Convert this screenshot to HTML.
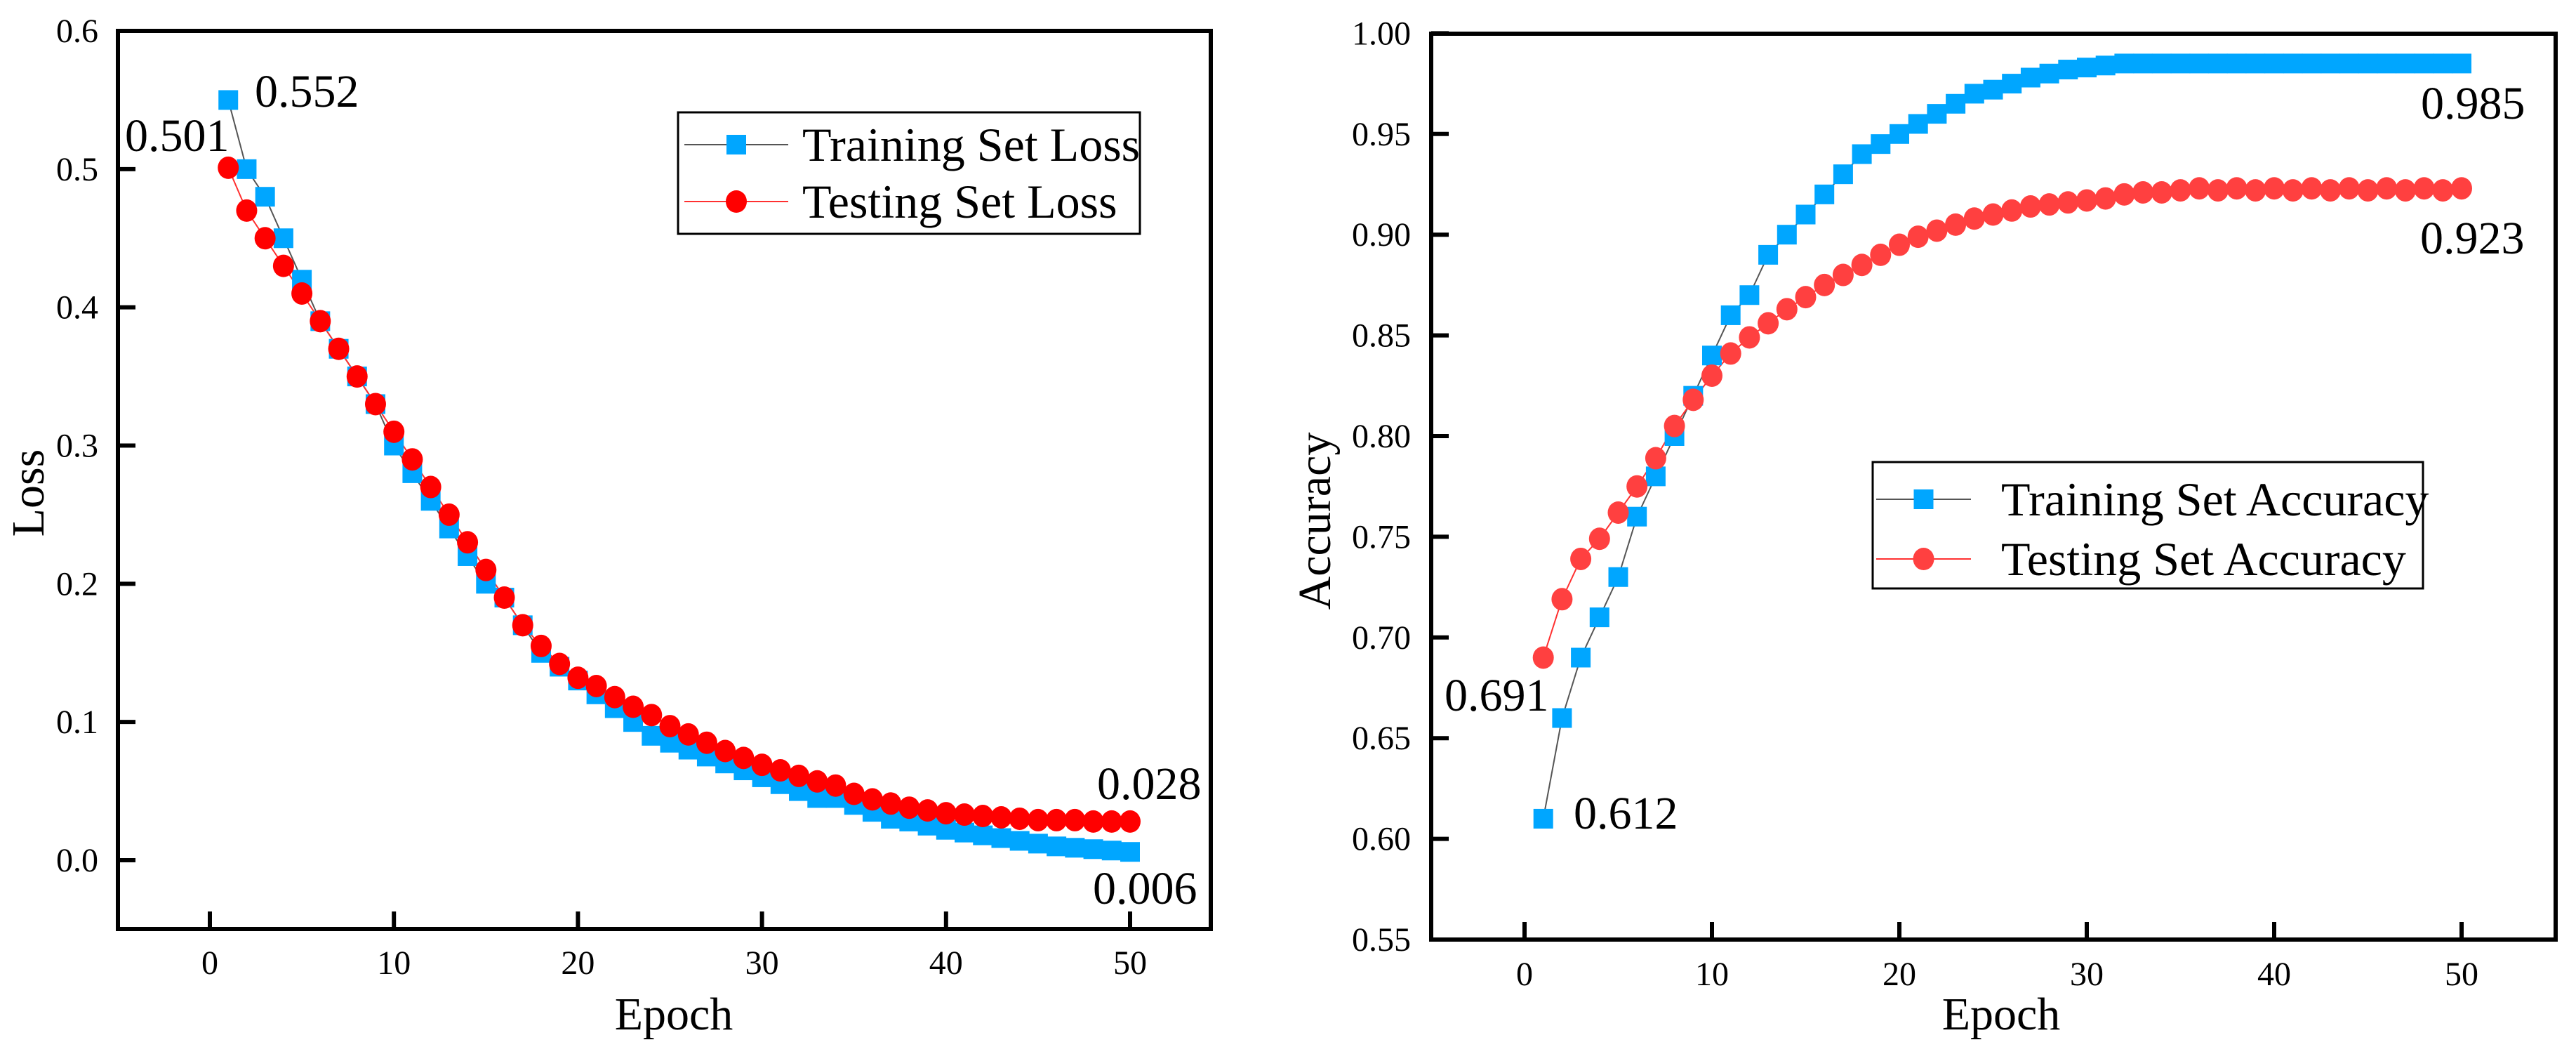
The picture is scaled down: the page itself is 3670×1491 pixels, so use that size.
<!DOCTYPE html>
<html><head><meta charset="utf-8"><style>
html,body{margin:0;padding:0;background:#fff;width:3670px;height:1491px;overflow:hidden}
svg text{font-family:"Liberation Serif",serif;fill:#000}
</style></head><body>
<svg id="fig" width="3670" height="1491" viewBox="0 0 3670 1491" xmlns="http://www.w3.org/2000/svg">
<g id="lossPanel"></g>
<g id="accPanel"></g>
</svg>
<script>
const epochs = Array.from({length:50},(_,i)=>i+1);
const lossTicksY = [0.0,0.1,0.2,0.3,0.4,0.5,0.6];
const lossTickLabels = ["0.0","0.1","0.2","0.3","0.4","0.5","0.6"];
const accTicksY = [0.55,0.60,0.65,0.70,0.75,0.80,0.85,0.90,0.95,1.00];
const accTickLabels = ["0.55","0.60","0.65","0.70","0.75","0.80","0.85","0.90","0.95","1.00"];
const xTicks = [0,10,20,30,40,50];
const trainLoss = [0.55,0.50,0.48,0.45,0.42,0.39,0.37,0.35,0.33,0.30,0.28,0.26,0.24,0.22,0.20,0.19,0.17,0.15,0.14,0.13,0.12,0.11,0.10,0.09,0.085,0.08,0.075,0.07,0.065,0.06,0.055,0.05,0.045,0.045,0.04,0.035,0.03,0.028,0.025,0.022,0.02,0.018,0.016,0.014,0.012,0.01,0.009,0.008,0.007,0.006];
const testLoss = [0.501,0.47,0.45,0.43,0.41,0.39,0.37,0.35,0.33,0.31,0.29,0.27,0.25,0.23,0.21,0.19,0.17,0.155,0.142,0.132,0.126,0.118,0.111,0.105,0.097,0.091,0.085,0.079,0.074,0.069,0.065,0.061,0.057,0.054,0.048,0.044,0.041,0.038,0.036,0.034,0.033,0.032,0.031,0.030,0.029,0.029,0.029,0.028,0.028,0.028];
const trainAcc = [0.61,0.66,0.69,0.71,0.73,0.76,0.78,0.80,0.82,0.84,0.86,0.87,0.89,0.90,0.91,0.92,0.93,0.94,0.945,0.95,0.955,0.96,0.965,0.97,0.972,0.975,0.978,0.98,0.982,0.983,0.984,0.985,0.985,0.985,0.985,0.985,0.985,0.985,0.985,0.985,0.985,0.985,0.985,0.985,0.985,0.985,0.985,0.985,0.985,0.985];
const testAcc = [0.69,0.719,0.739,0.749,0.762,0.775,0.789,0.805,0.818,0.830,0.841,0.849,0.856,0.863,0.869,0.875,0.880,0.885,0.890,0.895,0.899,0.902,0.905,0.908,0.910,0.912,0.914,0.915,0.916,0.917,0.918,0.920,0.921,0.921,0.922,0.923,0.922,0.923,0.922,0.923,0.922,0.923,0.922,0.923,0.922,0.923,0.922,0.923,0.922,0.923];

const NS="http://www.w3.org/2000/svg";
function mk(parent,tag,attrs,text){const e=document.createElementNS(NS,tag);for(const k in attrs)e.setAttribute(k,attrs[k]);if(text!==undefined)e.textContent=text;parent.appendChild(e);return e;}

function drawPanel(g,cfg){
  const {L,R,T,B,x,y,yTicks,yLabels,series,legend,yTitle,yTitleX,yTitleY,ytlX,xtlY,xTitleX,xTitleY,annots}=cfg;
  series.forEach(s=>{
    const pts=s.data.map((v,i)=>x(epochs[i])+','+y(v)).join(' ');
    const pl=mk(g,'polyline',{points:pts,fill:'none',stroke:s.line,'stroke-width':2});
    
    
  });
  series.forEach(s=>{
    s.data.forEach((v,i)=>{
      let m;
      if(s.shape==='sq'){m=mk(g,'rect',{x:x(epochs[i])-14,y:y(v)-14,width:28,height:28,fill:s.color});}
      else{m=mk(g,'ellipse',{cx:x(epochs[i]),cy:y(v),rx:15,ry:16,fill:s.color});}
      
      
    });
  });
  const fr=mk(g,'rect',{x:L,y:T,width:R-L,height:B-T,fill:'none',stroke:'#000','stroke-width':6});
  
  
  yTicks.forEach((v,i)=>{
    const t=mk(g,'line',{x1:L,x2:L+25,y1:y(v),y2:y(v),stroke:'#000','stroke-width':6});
    
    
    const lb=mk(g,'text',{x:ytlX,y:y(v)+16,'font-size':48,'text-anchor':'end'},yLabels[i]);
    
    
  });
  xTicks.forEach(v=>{
    const t=mk(g,'line',{x1:x(v),x2:x(v),y1:B,y2:B-25,stroke:'#000','stroke-width':6});
    
    
    const lb=mk(g,'text',{x:x(v),y:xtlY,'font-size':48,'text-anchor':'middle'},String(v));
    
    
  });
  const xt=mk(g,'text',{x:xTitleX,y:xTitleY,'font-size':66,'text-anchor':'middle'},'Epoch');
  
  
  const yt=mk(g,'text',{x:yTitleX,y:yTitleY,'font-size':66,'text-anchor':'middle',transform:`rotate(-90 ${yTitleX} ${yTitleY})`},yTitle);
  
  
  const lg=mk(g,'g',{});
  
  
  const lb=mk(lg,'rect',{x:legend.x,y:legend.y,width:legend.w,height:legend.h,fill:'#fff',stroke:'#000','stroke-width':3});
  
  
  series.forEach((s,i)=>{
    const ry=legend.rows[i];
    const e=mk(lg,'g',{});
    
    
    mk(e,'line',{x1:legend.l1,x2:legend.l2,y1:ry,y2:ry,stroke:s.line,'stroke-width':2});
    const mx=(legend.l1+legend.l2)/2;
    if(s.shape==='sq')mk(e,'rect',{x:mx-14,y:ry-14,width:28,height:28,fill:s.color});
    else mk(e,'ellipse',{cx:mx,cy:ry,rx:15,ry:16,fill:s.color});
    mk(e,'text',{x:legend.tx,y:ry+23,'font-size':68},s.label);
  });
  annots.forEach(a=>{
    const t=mk(g,'text',{x:a.x,y:a.y,'font-size':66},a.t);
    
    
  });
}

drawPanel(document.getElementById('lossPanel'),{
  L:168,R:1725,T:44,B:1323,
  x:e=>299+e*26.22, y:v=>1225-v*1968.3,
  yTicks:lossTicksY,yLabels:lossTickLabels,ytlX:140,xtlY:1387,xTitleX:960,xTitleY:1466,
  yTitle:'Loss',yTitleX:62,yTitleY:702,
  series:[
    {name:'training-loss',data:trainLoss,color:'#00a6ff',line:'#555',shape:'sq',label:'Training Set Loss'},
    {name:'testing-loss',data:testLoss,color:'#ff0000',line:'#ff3030',shape:'ci',label:'Testing Set Loss'}
  ],
  legend:{x:966,y:160,w:658,h:173,rows:[206,287],l1:975,l2:1123,tx:1143},
  annots:[{x:363,y:152,t:'0.552'},{x:178,y:215,t:'0.501'},{x:1563,y:1138,t:'0.028'},{x:1557,y:1287,t:'0.006'}]
});
drawPanel(document.getElementById('accPanel'),{
  L:2039,R:3641,T:48,B:1338,
  x:e=>2172+e*26.7, y:v=>1338-(v-0.55)/0.05*143.4,
  yTicks:accTicksY,yLabels:accTickLabels,ytlX:2010,xtlY:1403,xTitleX:2851,xTitleY:1466,
  yTitle:'Accuracy',yTitleX:1895,yTitleY:742,
  series:[
    {name:'training-accuracy',data:trainAcc,color:'#00a6ff',line:'#555',shape:'sq',label:'Training Set Accuracy'},
    {name:'testing-accuracy',data:testAcc,color:'#ff4040',line:'#ff3030',shape:'ci',label:'Testing Set Accuracy'}
  ],
  legend:{x:2668,y:658,w:784,h:180,rows:[711,796],l1:2673,l2:2808,tx:2851},
  annots:[{x:3449,y:169,t:'0.985'},{x:3448,y:361,t:'0.923'},{x:2058,y:1012,t:'0.691'},{x:2242,y:1180,t:'0.612'}]
});
</script>
</body></html>
